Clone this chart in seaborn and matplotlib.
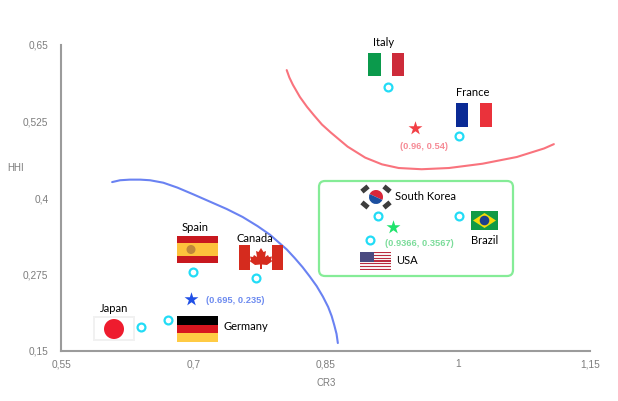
import matplotlib
matplotlib.use("Agg")
import matplotlib.pyplot as plt
import seaborn as sns
import pandas as pd
from matplotlib.patches import Rectangle, Circle, FancyBboxPatch, Polygon, Wedge, Ellipse
from matplotlib.transforms import Affine2D

countries = ["Italy", "France", "Spain", "Canada", "Japan", "Germany", "South Korea", "Brazil", "USA"]
cr3 = [0.921, 1.001, 0.700, 0.771, 0.641, 0.671, 0.910, 1.001, 0.900]
hhi = [0.581, 0.501, 0.279, 0.270, 0.190, 0.200, 0.370, 0.370, 0.331]

centre_x = [0.951, 0.697, 0.926]
centre_y = [0.514, 0.235, 0.353]
centre_labels = ["(0.96, 0.54)", "(0.695, 0.235)", "(0.9366, 0.3567)"]
centre_colors = ["#f23f45", "#1f4fe6", "#1fe36b"]

red_x = [0.806, 0.809, 0.813, 0.821, 0.829, 0.837, 0.846, 0.856, 0.875, 0.895, 0.914, 0.933, 0.959, 0.990, 1.028, 1.067, 1.098, 1.109]
red_y = [0.609, 0.597, 0.585, 0.565, 0.549, 0.535, 0.520, 0.507, 0.484, 0.466, 0.455, 0.449, 0.447, 0.449, 0.456, 0.467, 0.481, 0.488]
blue_x = [0.608, 0.617, 0.628, 0.640, 0.651, 0.666, 0.682, 0.700, 0.719, 0.738, 0.756, 0.773, 0.787, 0.806, 0.815, 0.824, 0.832, 0.840, 0.847, 0.853, 0.857, 0.860, 0.8625, 0.864]
blue_y = [0.426, 0.429, 0.430, 0.430, 0.429, 0.425, 0.417, 0.406, 0.394, 0.382, 0.369, 0.354, 0.340, 0.316, 0.302, 0.287, 0.272, 0.256, 0.239, 0.222, 0.207, 0.192, 0.178, 0.163]

xticks = [0.55, 0.7, 0.85, 1, 1.15]
xtick_labels = ["0,55", "0,7", "0,85", "1", "1,15"]
yticks = [0.15, 0.275, 0.4, 0.525, 0.65]
ytick_labels = ["0,15", "0,275", "0,4", "0,525", "0,65"]

sns.set_style("white")
W, H = 618, 401
fig = plt.figure(figsize=(W / 100, H / 100), dpi=100)
ax = fig.add_axes([61 / W, 1 - 351 / H, 529 / W, 306 / H])
ax.patch.set_alpha(0)

# curves, centres and country points
sns.lineplot(x=red_x, y=red_y, sort=False, color="#f9737d", lw=1.5, ax=ax, zorder=3)
sns.lineplot(x=blue_x, y=blue_y, sort=False, color="#6a82f2", lw=1.5, ax=ax, zorder=3)
sns.scatterplot(data=pd.DataFrame({"x": cr3, "y": hhi}), x="x", y="y", s=32, color="white",
                edgecolor="#22dcf6", linewidth=1.6, ax=ax, zorder=5, clip_on=False)
for cx, cy, c in zip(centre_x, centre_y, centre_colors):
    sns.scatterplot(x=[cx], y=[cy], marker="*", s=110, color=c, edgecolor=c, linewidth=0, ax=ax, zorder=5)

ax.set_xlim(0.55, 1.15)
ax.set_ylim(0.15, 0.65)
ax.set_xticks(xticks)
ax.set_xticklabels(xtick_labels)
ax.set_yticks(yticks)
ax.set_yticklabels(ytick_labels)
ax.tick_params(length=0, labelsize=7.3, labelcolor="#7d7d7d", labelfontfamily="Liberation Sans")
ax.tick_params(axis="x", pad=6)
ax.tick_params(axis="y", pad=9)
ax.set_xlabel("")
ax.set_ylabel("")
for s in ["top", "right"]:
    ax.spines[s].set_visible(False)
for s in ["left", "bottom"]:
    ax.spines[s].set_color("#9b9b9b")
    ax.spines[s].set_linewidth(1.5)

# layout helpers: image-pixel coordinates for flags and labels
T = Affine2D().scale(1, -1).translate(0, H)


def rect(x0, y0, x1, y1, c, z=2):
    fig.add_artist(Rectangle((x0, y0), x1 - x0, y1 - y0, transform=T, fc=c, ec="none", zorder=z))


def text(x, y, s, ha="center", c="black", fs=8, fam="Lato", **k):
    fig.text(x / W, 1 - y / H, s, ha=ha, va="center", color=c, fontsize=fs, family=fam, zorder=8, **k)


# Italy
rect(368, 53, 381, 76, "#0b9a4c"); rect(392, 53, 404, 76, "#cd2b3a")
# France
rect(456, 103, 468, 127, "#0a2a95"); rect(480, 103, 492, 127, "#ea323b")
# Spain
rect(177, 236, 218, 263, "#c8181f"); rect(177, 243, 218, 256, "#fdc23c")
fig.add_artist(Ellipse((191, 249.5), 9, 9, transform=T, fc="#c0873a", ec="none", zorder=3))
# Canada
rect(239, 245, 250, 270, "#d52b1e"); rect(272, 245, 283, 270, "#d52b1e")
leaf = [(261, 248), (263.5, 252), (266, 251), (265, 257), (268, 255), (269, 257), (272, 256.5), (271, 260),
        (272.5, 261), (267, 265), (262, 264.5), (262, 269), (260, 269), (260, 264.5), (255, 265), (249.5, 261),
        (251, 260), (250, 256.5), (253, 257), (254, 255), (257, 257), (256, 251), (258.5, 252)]
fig.add_artist(Polygon(leaf, transform=T, fc="#d52b1e", ec="none", zorder=3))
# Japan
rect(93, 316, 135, 341, "#f1f1f1")
rect(95, 318, 133, 339, "#ffffff")
fig.add_artist(Circle((114, 329), 10, transform=T, fc="#ee1c2e", ec="none", zorder=3))
# Germany
rect(177, 316, 218, 325, "#000000"); rect(177, 324.5, 218, 333, "#d8161f"); rect(177, 333, 218, 342, "#ffcb44")
# South Korea
kx, ky = 376, 197
fig.add_artist(Wedge((kx, ky), 7, 205, 25, transform=T, fc="#d9263a", ec="none", zorder=3))
fig.add_artist(Wedge((kx, ky), 7, 25, 205, transform=T, fc="#1c4fa0", ec="none", zorder=3))
for dx, dy, ang in [(-11, -8, -40), (11, -8, 40), (-11, 8, 40), (11, 8, -40)]:
    bar = Rectangle((-4, -2.5), 8, 5, fc="#3d3d3d", ec="none", zorder=3,
                    transform=Affine2D().rotate_deg(ang).translate(kx + dx, ky + dy) + T)
    fig.add_artist(bar)
# Brazil
rect(471, 211, 498, 230, "#129a45")
fig.add_artist(Polygon([(473, 220.5), (484.5, 213), (496, 220.5), (484.5, 228)], transform=T,
                       fc="#f5d90a", ec="none", zorder=3))
fig.add_artist(Circle((484.5, 220.5), 4.8, transform=T, fc="#1d3f8c", ec="none", zorder=4))
# USA
for i in range(13):
    rect(360, 252 + i * 18 / 13, 391, 252 + (i + 1) * 18 / 13, "#b92b3f" if i % 2 == 0 else "#f6f1f1")
rect(360, 252, 374, 262, "#4a4a80", z=3)

# green cluster box
fig.add_artist(FancyBboxPatch((323, 185), 186, 87, boxstyle="round,pad=4,rounding_size=6", transform=T,
                              fc="none", ec="#85ec97", lw=1.6, zorder=4))

# labels
text(384, 43, "Italy")
text(473, 93, "France")
text(195, 227, "Spain")
text(255, 238, "Canada")
text(114, 308, "Japan")
text(223, 327, "Germany", ha="left")
text(395, 197, "South Korea", ha="left")
text(485, 240, "Brazil")
text(396, 261, "USA", ha="left")
text(424, 147, centre_labels[0], c="#f68b96", fs=6.7, fam="Liberation Sans", fontweight="bold")
text(206, 300.5, centre_labels[1], ha="left", c="#6d8bf0", fs=6.7, fam="Liberation Sans", fontweight="bold")
text(385, 243, centre_labels[2], ha="left", c="#7bdc9a", fs=6.7, fam="Liberation Sans", fontweight="bold")
text(16, 168, "HHI", c="#7d7d7d", fs=7, fam="Liberation Sans")
text(326, 383, "CR3", c="#7d7d7d", fs=7, fam="Liberation Sans")

fig.savefig("out.png", dpi=100)
